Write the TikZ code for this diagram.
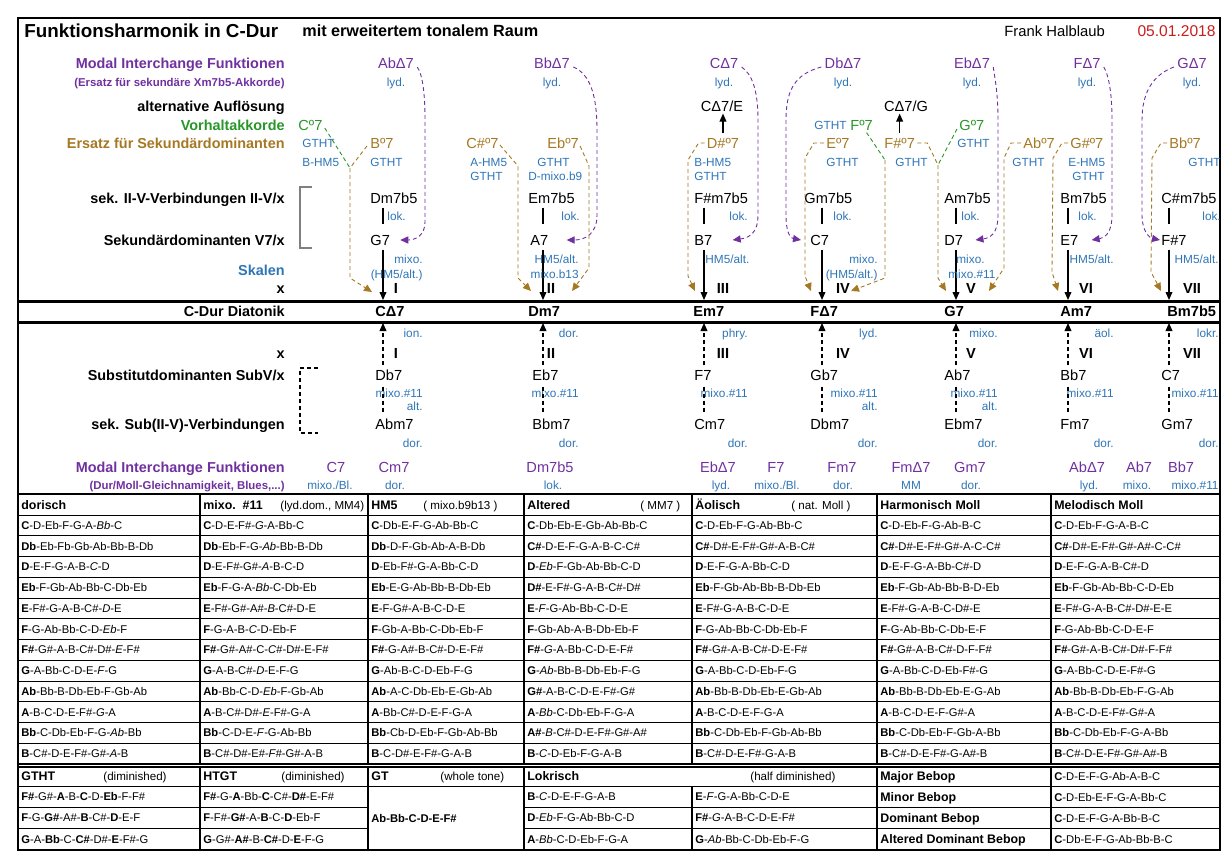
\documentclass[tikz,border=0pt]{standalone}
\usepackage{fontspec}
\setmainfont{Liberation Sans}
\usepackage{tikz}
\usetikzlibrary{arrows.meta,calc}
\definecolor{mipurple}{RGB}{112,48,160}
\definecolor{scblue}{RGB}{46,117,182}
\definecolor{vhgreen}{RGB}{40,150,40}
\definecolor{ersbrown}{RGB}{165,120,35}
\definecolor{datered}{RGB}{200,30,30}
\newcommand{\kt}[1]{\textbf{#1}}
\newcommand{\vm}[1]{\textit{#1}}
\tikzset{
  every node/.style={inner sep=0pt},
  chd/.style={font=\fontsize{7.3}{8}\selectfont,text height=5.2pt,text depth=0pt},
  bchd/.style={chd,font=\bfseries\fontsize{7.3}{8}\selectfont},
  scl/.style={font=\fontsize{5.9}{7}\selectfont,text height=4.2pt,text depth=0pt,text=scblue},
  lab/.style={font=\bfseries\fontsize{7.2}{8}\selectfont,text height=5.2pt,text depth=0pt,anchor=east},
  sublab/.style={font=\bfseries\fontsize{5.7}{7}\selectfont,text height=4.1pt,text depth=0pt,anchor=east,text=mipurple},
  tcell/.style={font=\fontsize{5.6}{6}\selectfont,text height=4pt,text depth=0pt,anchor=west},
  thead/.style={font=\bfseries\fontsize{6.2}{7}\selectfont,text height=4.5pt,text depth=0pt,anchor=west},
  tnote/.style={font=\fontsize{5.8}{6}\selectfont,text height=4.1pt,text depth=0pt,anchor=west},
  dsh/.style={dash pattern=on 2pt off 1.5pt,line width=.45pt},
  pconn/.style={dsh,draw=mipurple,-{Triangle[length=4pt,width=3.6pt]}},
  bconn/.style={dsh,draw=ersbrown,-{Triangle[length=4pt,width=3.6pt]}},
  gconn/.style={dsh,draw=vhgreen},
  darr/.style={line width=.6pt,-{Triangle[length=4pt,width=3.4pt]}},
  outerline/.style={line width=1.3pt},
  rowline/.style={line width=.5pt},
  colline/.style={line width=1.1pt},
}

\begin{document}
\begin{tikzpicture}[x=0.5pt,y=-0.5pt]
  \useasboundingbox (0,0) rectangle (1227,867);
  \path[draw,outerline] (18,18) rectangle (1220,850);
  \node[font=\bfseries\fontsize{9.4}{11}\selectfont,text height=6.8pt,anchor=west] (title) at (24,31) {Funktionsharmonik in C-Dur};
  \node[font=\bfseries\fontsize{8.1}{10}\selectfont,text height=5.8pt,anchor=west] (subtitle) at (302,31) {mit erweitertem tonalem Raum};
  \node[font=\fontsize{7.4}{9}\selectfont,text height=5.3pt,anchor=west] (author) at (1004,31) {Frank Halblaub};
  \node[font=\fontsize{7.8}{9}\selectfont,text height=5.6pt,anchor=east,text=datered] (date) at (1216,31) {05.01.2018};

  \node[lab,text=mipurple] (lmi) at (285,63) {Modal Interchange Funktionen};
  \node[sublab] (lmis) at (285,82) {(Ersatz für sekundäre Xm7b5-Akkorde)};
  \node[lab] (lalt) at (285,106) {alternative Auflösung};
  \node[lab,text=vhgreen] (lvh) at (285,125) {Vorhaltakkorde};
  \node[lab,text=ersbrown] (lers) at (285,143) {Ersatz für Sekundärdominanten};
  \node[lab] (liiv) at (285,198) {sek. II-V-Verbindungen II-V/x};
  \node[lab] (lsd) at (285,240) {Sekundärdominanten V7/x};
  \node[lab,text=scblue] (lskal) at (285,270) {Skalen};
  \node[lab] (lx) at (285,288) {x};
  \node[lab] (ldia) at (285,311) {C-Dur Diatonik};
  \node[lab] (lxb) at (285,353) {x};
  \node[lab] (lsub) at (285,375) {Substitutdominanten SubV/x};
  \node[lab] (lsubii) at (285,424) {sek. Sub(II-V)-Verbindungen};
  \node[lab,text=mipurple] (lmib) at (285,467) {Modal Interchange Funktionen};
  \node[sublab] (lmibs) at (285,485) {(Dur/Moll-Gleichnamigkeit, Blues,...)};

  \path[draw,gray,line width=.6pt] (312,187) -- (300,187) -- (300,248) -- (312,248);
  \path[draw,dsh,line width=.6pt] (318,368) -- (300,368) -- (300,433) -- (318,433);
  \path[draw,line width=1.5pt] (18,301) -- (1220,301);
  \path[draw,line width=1.5pt] (18,322) -- (1220,322);

  \foreach \n/\xa/\iic/\iix/\vc/\vx/\lokx/\dg/\dgx/\dc/\dx/\mc/\mx in {
    1/383/Dm7b5/370/G7/370/387/I/396/CΔ7/375/AbΔ7/396,
    2/543/Em7b5/528/A7/530/561/II/551/Dm7/528/BbΔ7/552,
    3/704/F\#m7b5/694/B7/694/729/III/723/Em7/693/CΔ7/724,
    4/822/Gm7b5/804/C7/810/833/IV/843/FΔ7/810/DbΔ7/843,
    5/956/Am7b5/944/D7/944/961/V/971/G7/944/EbΔ7/972,
    6/1068/Bm7b5/1060/E7/1060/1078/VI/1086/Am7/1060/FΔ7/1087,
    7/1169/C\#m7b5/1161/F\#7/1161/1202/VII/1192/Bm7b5/1167/GΔ7/1192}{
    \coordinate (ax\n) at (\xa,300);
    \coordinate (bx\n) at (\xa,323);
    \node[chd,text=mipurple] (mi\n) at (\mx,63) {\mc};
    \node[scl] (lyd\n) at (\mx,82) {lyd.};
    \node[chd,anchor=west] (ii\n) at (\iix,198) {\iic};
    \node[scl,anchor=west] (lok\n) at (\lokx,216) {lok.};
    \node[chd,anchor=west] (sd\n) at (\vx,240) {\vc};
    \node[bchd] (dg\n) at (\dgx,288) {\dg};
    \node[bchd,anchor=west] (dia\n) at (\dx,311) {\dc};
    \node[bchd] (dgb\n) at (\dgx,353) {\dg};
    \path[draw,line width=.6pt,shorten <=2pt,shorten >=5pt] (ii\n.south -| ax\n) -- (sd\n.north -| ax\n);
    \path[draw,darr,shorten <=2pt] (sd\n.south -| ax\n) -- (ax\n);
  }

  \node[scl,anchor=east] (vs1a) at (423,259) {mixo.};
  \node[scl,anchor=east] (vs1b) at (423,274) {(HM5/alt.)};
  \node[scl,anchor=east] (vs2a) at (579,259) {HM5/alt.};
  \node[scl,anchor=east] (vs2b) at (579,274) {mixo.b13};
  \node[scl,anchor=west] (vs3a) at (705,259) {HM5/alt.};
  \node[scl,anchor=east] (vs4a) at (878,259) {mixo.};
  \node[scl,anchor=east] (vs4b) at (878,274) {(HM5/alt.)};
  \node[scl,anchor=west] (vs5a) at (956,259) {mixo.};
  \node[scl,anchor=west] (vs5b) at (948,274) {mixo.\#11};
  \node[scl,anchor=east] (vs6a) at (1114,259) {HM5/alt.};
  \node[scl,anchor=east] (vs7a) at (1219,259) {HM5/alt.};

  \node[chd,text=vhgreen,anchor=west] (vh1) at (298,125) {Cº7};
  \node[scl,anchor=west] (gt1) at (302,143) {GTHT};
  \node[chd,text=ersbrown,anchor=west] (ers1) at (370,143) {Bº7};
  \node[scl,anchor=west] (hm1) at (302,162) {B-HM5};
  \node[scl,anchor=west] (gt1b) at (370,162) {GTHT};
  \node[chd,text=ersbrown,anchor=west] (ers2a) at (466,143) {C\#º7};
  \node[chd,text=ersbrown,anchor=west] (ers2b) at (547,143) {Ebº7};
  \node[scl,anchor=west] (hm2) at (470,162) {A-HM5};
  \node[scl,anchor=west] (gt2) at (470,176) {GTHT};
  \node[scl,anchor=west] (gt2b) at (537,162) {GTHT};
  \node[scl,anchor=west] (dm2) at (528,176) {D-mixo.b9};
  \node[chd] (al3) at (722,106) {CΔ7/E};
  \node[chd,text=ersbrown] (ers3) at (723,143) {D\#º7};
  \node[scl,anchor=west] (hm3) at (694,162) {B-HM5};
  \node[scl,anchor=west] (gt3) at (694,176) {GTHT};
  \node[chd] (al4) at (906,106) {CΔ7/G};
  \node[scl,anchor=west] (gt4a) at (814,125) {GTHT};
  \node[chd,text=vhgreen,anchor=west] (vh4) at (850,125) {Fº7};
  \node[chd,text=ersbrown,anchor=west] (ers4a) at (826,143) {Eº7};
  \node[scl,anchor=west] (gt4b) at (826,162) {GTHT};
  \node[chd,text=ersbrown,anchor=west] (ers4b) at (884,143) {F\#º7};
  \node[scl,anchor=west] (gt4c) at (895,162) {GTHT};
  \node[chd,text=vhgreen,anchor=west] (vh5) at (959,125) {Gº7};
  \node[scl,anchor=west] (gt5a) at (957,143) {GTHT};
  \node[chd,text=ersbrown,anchor=west] (ers5) at (1023,143) {Abº7};
  \node[scl,anchor=west] (gt5b) at (1012,162) {GTHT};
  \node[chd,text=ersbrown,anchor=west] (ers6) at (1070,143) {G\#º7};
  \node[scl,anchor=west] (hm6) at (1068,162) {E-HM5};
  \node[scl,anchor=west] (gt6) at (1072,176) {GTHT};
  \node[chd,text=ersbrown,anchor=west] (ers7) at (1169,143) {Bbº7};
  \node[scl,anchor=west] (gt7) at (1188,162) {GTHT};

  \path[draw,darr,shorten <=2pt,shorten >=1pt] (ers3.north) -- (ers3.north |- al3.south);
  \path[draw,darr,shorten <=2pt,shorten >=1pt] (ers4b.north) -- (ers4b.north |- al4.south);

  \path[draw,pconn] ($(mi1.east)+(3,4)$) .. controls (422,74) and (425,90) .. (425,120) -- (425,222) .. controls (425,236) and (415,240) .. ($(sd1.east)+(10,0)$);
  \path[draw,pconn] ($(mi2.east)+(3,4)$) .. controls (590,74) and (597,95) .. (597,130) -- (597,215) .. controls (597,234) and (585,240) .. ($(sd2.east)+(18,0)$);
  \path[draw,pconn] ($(mi3.east)+(3,4)$) .. controls (752,74) and (758,90) .. (758,120) -- (758,215) .. controls (758,234) and (748,238) .. ($(sd3.east)+(20,0)$);
  \path[draw,pconn] ($(mi4.west)+(-3,4)$) .. controls (795,74) and (786,90) .. (786,120) -- (786,215) .. controls (786,232) and (790,238) .. ($(sd4.west)+(-9,0)$);
  \path[draw,pconn] ($(mi5.east)+(3,4)$) .. controls (994,74) and (998,90) .. (998,120) -- (998,215) .. controls (998,234) and (990,238) .. ($(sd5.east)+(12,0)$);
  \path[draw,pconn] ($(mi6.east)+(3,4)$) .. controls (1108,74) and (1112,90) .. (1112,120) -- (1112,215) .. controls (1112,234) and (1104,238) .. ($(sd6.east)+(13,0)$);
  \path[draw,pconn] ($(mi7.west)+(-3,4)$) .. controls (1155,74) and (1142,90) .. (1142,120) -- (1142,215) .. controls (1142,232) and (1150,238) .. ($(sd7.west)+(-1,0)$);

  \coordinate (j1) at (350,168);
  \coordinate (j4) at (885,160);
  \coordinate (j5) at (938,165);
  \path[draw,gconn] ($(vh1.east)+(2,3)$) -- (j1);
  \path[draw,dsh,draw=ersbrown] ($(ers1.west)+(-3,3)$) -- (j1);
  \path[draw,bconn] (j1) -- ++(0,110) -- ($(ax1)+(-11,-8)$);
  \path[draw,bconn] ($(ers2a.east)+(1,2)$) -- (518,166) -- (518,278) -- ($(ax2)+(-12,-9)$);
  \path[draw,bconn] ($(ers2b.east)+(1,3)$) -- (589,166) -- (589,268) -- ($(ax2)+(29,-9)$);
  \path[draw,bconn] ($(ers3.west)+(-2,0)$) -- ++(-6,0) -- (688,160) -- (688,276) -- ($(ax3)+(-9,-9)$);
  \path[draw,bconn] ($(ers4a.west)+(-2,0)$) -- ++(-10,0) -- (805,158) -- (805,276) -- ($(ax4)+(-11,-9)$);
  \path[draw,gconn] ($(vh4.south)+(5,2)$) -- (j4);
  \path[draw,bconn] (j4) -- (885,278) -- ($(ax4)+(29,-9)$);
  \path[draw,dsh,draw=ersbrown] ($(ers4b.east)+(2,0)$) -- ++(10,0) -- (j5);
  \path[draw,gconn] ($(vh5.west)+(-2,4)$) -- (j5);
  \path[draw,bconn] (j5) -- (938,278) -- ($(ax5)+(-10,-9)$);
  \path[draw,bconn] ($(ers5.west)+(-2,0)$) -- ++(-10,0) -- (1004,158) -- (1004,268) -- ($(ax5)+(33,-9)$);
  \path[draw,bconn] ($(ers6.west)+(-2,0)$) -- ++(-6,0) -- (1053,158) -- (1052,272) -- ($(ax6)+(-10,-9)$);
  \path[draw,bconn] ($(ers7.west)+(-2,0)$) -- ++(-6,0) -- (1152,158) -- (1151,272) -- ($(ax7)+(-8,-9)$);

  \foreach \n/\sc/\sx/\tc/\mo/\rx in {
    1/Db7/375/Abm7/ion./423,
    2/Eb7/532/Bbm7/dor./579,
    3/F7/694/Cm7/phry./748,
    4/Gb7/810/Dbm7/lyd./878,
    5/Ab7/944/Ebm7/mixo./998,
    6/Bb7/1060/Fm7/äol./1114,
    7/C7/1161/Gm7/lokr./1219}{
    \node[scl,anchor=east] (mo\n) at (\rx,333) {\mo};
    \node[chd,anchor=west] (sub\n) at (\sx,375) {\sc};
    \node[scl,anchor=east] (sm\n) at (\rx,393) {mixo.\#11};
    \node[chd,anchor=west] (sii\n) at (\sx,424) {\tc};
    \node[scl,anchor=east] (sdo\n) at (\rx,443) {dor.};
    \path[draw,dsh,line width=.6pt,-{Triangle[length=4pt,width=3.4pt]},shorten <=2pt] (sub\n.north -| bx\n) -- (bx\n);
    \path[draw,dsh,line width=.6pt,shorten <=3pt,shorten >=3pt] (sub\n.south -| bx\n) -- (sii\n.north -| bx\n);
  }
  \node[scl,anchor=east] (alt1) at (423,406) {alt.};
  \node[scl,anchor=east] (alt4) at (878,406) {alt.};
  \node[scl,anchor=east] (alt5) at (998,406) {alt.};

  \foreach \c/\s/\cx/\sxx [count=\k] in {C7/{mixo./Bl.}/336/330, Cm7/dor./394/395, Dm7b5/lok./550/553,
    EbΔ7/lyd./718/721, F7/{mixo./Bl.}/776/777, Fm7/dor./842/843, FmΔ7/MM/911/911, Gm7/dor./970/971,
    AbΔ7/lyd./1087/1089, Ab7/mixo./1139/1137, Bb7/{mixo.\#11}/1181/1195}{
    \node[chd,text=mipurple] (mib\k) at (\cx,467) {\c};
    \node[scl] (mis\k) at (\sxx,485) {\s};
  }

  \foreach \r in {0,...,11}
    \path[draw,rowline] (18,{515+20.75*\r}) -- (1220,{515+20.75*\r});
  \path[draw,outerline] (18,494) -- (1220,494);
  \path[draw,colline] (18,764) -- (1220,764);
  \path[draw,colline] (18,767) -- (1220,767);
  \foreach \x in {200,368,524,692,877,1051}
    \path[draw,colline] (\x,494) -- (\x,764);

  \node[thead] (hdor) at (21,505) {dorisch};
  \node[thead] (hmix) at (203,505) {mixo.\ \ \#11};
  \node[tnote] (nmix) at (280,505) {(lyd.dom., MM4)};
  \node[thead] (hhm) at (371,505) {HM5};
  \node[tnote] (nhm) at (423,505) {( mixo.b9b13 )};
  \node[thead] (halt) at (527,505) {Altered};
  \node[tnote] (nalt) at (640,505) {( MM7 )};
  \node[thead] (haeo) at (695,505) {Äolisch};
  \node[tnote] (naeo) at (791,505) {( nat. Moll )};
  \node[thead] (hhmo) at (880,505) {Harmonisch Moll};
  \node[thead] (hmmo) at (1054,505) {Melodisch Moll};

  \foreach \s [count=\r from 0] in {{\kt{C}-D-Eb-F-G-A-\vm{Bb}-C},{\kt{Db}-Eb-Fb-Gb-Ab-Bb-B-Db},{\kt{D}-E-F-G-A-B-\vm{C}-D},
    {\kt{Eb}-F-Gb-Ab-Bb-C-Db-Eb},{\kt{E}-F\#-G-A-B-C\#-\vm{D}-E},{\kt{F}-G-Ab-Bb-C-D-\vm{Eb}-F},
    {\kt{F\#}-G\#-A-B-C\#-D\#-\vm{E}-F\#},{\kt{G}-A-Bb-C-D-E-\vm{F}-G},{\kt{Ab}-Bb-B-Db-Eb-F-Gb-Ab},
    {\kt{A}-B-C-D-E-F\#-\vm{G}-A},{\kt{Bb}-C-Db-Eb-F-G-\vm{Ab}-Bb},{\kt{B}-C\#-D-E-F\#-G\#-\vm{A}-B}}
    \node[tcell] (dor\r) at (21,{525.4+20.75*\r}) {\s};
  \foreach \s [count=\r from 0] in {{\kt{C}-D-E-F\#-\vm{G}-A-Bb-C},{\kt{Db}-Eb-F-G-\vm{Ab}-Bb-B-Db},{\kt{D}-E-F\#-G\#-\vm{A}-B-C-D},
    {\kt{Eb}-F-G-A-\vm{Bb}-C-Db-Eb},{\kt{E}-F\#-G\#-A\#-\vm{B}-C\#-D-E},{\kt{F}-G-A-B-\vm{C}-D-Eb-F},
    {\kt{F\#}-G\#-A\#-C-\vm{C\#}-D\#-E-F\#},{\kt{G}-A-B-C\#-\vm{D}-E-F-G},{\kt{Ab}-Bb-C-D-\vm{Eb}-F-Gb-Ab},
    {\kt{A}-B-C\#-D\#-\vm{E}-F\#-G-A},{\kt{Bb}-C-D-E-\vm{F}-G-Ab-Bb},{\kt{B}-C\#-D\#-E\#-\vm{F\#}-G\#-A-B}}
    \node[tcell] (mix\r) at (203,{525.4+20.75*\r}) {\s};
  \foreach \s [count=\r from 0] in {{\kt{C}-Db-E-F-G-Ab-Bb-C},{\kt{Db}-D-F-Gb-Ab-A-B-Db},{\kt{D}-Eb-F\#-G-A-Bb-C-D},
    {\kt{Eb}-E-G-Ab-Bb-B-Db-Eb},{\kt{E}-F-G\#-A-B-C-D-E},{\kt{F}-Gb-A-Bb-C-Db-Eb-F},
    {\kt{F\#}-G-A\#-B-C\#-D-E-F\#},{\kt{G}-Ab-B-C-D-Eb-F-G},{\kt{Ab}-A-C-Db-Eb-E-Gb-Ab},
    {\kt{A}-Bb-C\#-D-E-F-G-A},{\kt{Bb}-Cb-D-Eb-F-Gb-Ab-Bb},{\kt{B}-C-D\#-E-F\#-G-A-B}}
    \node[tcell] (hm\r) at (371,{525.4+20.75*\r}) {\s};
  \foreach \s [count=\r from 0] in {{\kt{C}-Db-Eb-E-Gb-Ab-Bb-C},{\kt{C\#}-D-E-F-G-A-B-C-C\#},{\kt{D}-\vm{Eb}-F-Gb-Ab-Bb-C-D},
    {\kt{D\#}-E-F\#-G-A-B-C\#-D\#},{\kt{E}-\vm{F}-G-Ab-Bb-C-D-E},{\kt{F}-Gb-Ab-A-B-Db-Eb-F},
    {\kt{F\#}-\vm{G}-A-Bb-C-D-E-F\#},{\kt{G}-\vm{Ab}-Bb-B-Db-Eb-F-G},{\kt{G\#}-A-B-C-D-E-F\#-G\#},
    {\kt{A}-\vm{Bb}-C-Db-Eb-F-G-A},{\kt{A\#}-\vm{B}-C\#-D-E-F\#-G\#-A\#},{\kt{B}-\vm{C}-D-Eb-F-G-A-B}}
    \node[tcell] (alt\r) at (527,{525.4+20.75*\r}) {\s};
  \foreach \s [count=\r from 0] in {{\kt{C}-D-Eb-F-G-Ab-Bb-C},{\kt{C\#}-D\#-E-F\#-G\#-A-B-C\#},{\kt{D}-E-F-G-A-Bb-C-D},
    {\kt{Eb}-F-Gb-Ab-Bb-B-Db-Eb},{\kt{E}-F\#-G-A-B-C-D-E},{\kt{F}-G-Ab-Bb-C-Db-Eb-F},
    {\kt{F\#}-G\#-A-B-C\#-D-E-F\#},{\kt{G}-A-Bb-C-D-Eb-F-G},{\kt{Ab}-Bb-B-Db-Eb-E-Gb-Ab},
    {\kt{A}-B-C-D-E-F-G-A},{\kt{Bb}-C-Db-Eb-F-Gb-Ab-Bb},{\kt{B}-C\#-D-E-F\#-G-A-B}}
    \node[tcell] (aeo\r) at (695,{525.4+20.75*\r}) {\s};
  \foreach \s [count=\r from 0] in {{\kt{C}-D-Eb-F-G-Ab-B-C},{\kt{C\#}-D\#-E-F\#-G\#-A-C-C\#},{\kt{D}-E-F-G-A-Bb-C\#-D},
    {\kt{Eb}-F-Gb-Ab-Bb-B-D-Eb},{\kt{E}-F\#-G-A-B-C-D\#-E},{\kt{F}-G-Ab-Bb-C-Db-E-F},
    {\kt{F\#}-G\#-A-B-C\#-D-F-F\#},{\kt{G}-A-Bb-C-D-Eb-F\#-G},{\kt{Ab}-Bb-B-Db-Eb-E-G-Ab},
    {\kt{A}-B-C-D-E-F-G\#-A},{\kt{Bb}-C-Db-Eb-F-Gb-A-Bb},{\kt{B}-C\#-D-E-F\#-G-A\#-B}}
    \node[tcell] (hmo\r) at (880,{525.4+20.75*\r}) {\s};
  \foreach \s [count=\r from 0] in {{\kt{C}-D-Eb-F-G-A-B-C},{\kt{C\#}-D\#-E-F\#-G\#-A\#-C-C\#},{\kt{D}-E-F-G-A-B-C\#-D},
    {\kt{Eb}-F-Gb-Ab-Bb-C-D-Eb},{\kt{E}-F\#-G-A-B-C\#-D\#-E-E},{\kt{F}-G-Ab-Bb-C-D-E-F},
    {\kt{F\#}-G\#-A-B-C\#-D\#-F-F\#},{\kt{G}-A-Bb-C-D-E-F\#-G},{\kt{Ab}-Bb-B-Db-Eb-F-G-Ab},
    {\kt{A}-B-C-D-E-F\#-G\#-A},{\kt{Bb}-C-Db-Eb-F-G-A-Bb},{\kt{B}-C\#-D-E-F\#-G\#-A\#-B}}
    \node[tcell] (mmo\r) at (1054,{525.4+20.75*\r}) {\s};

  \path[draw,rowline] (18,786) -- (1220,786);
  \foreach \y in {807,828.5}{
    \path[draw,rowline] (18,\y) -- (368,\y);
    \path[draw,rowline] (524,\y) -- (1220,\y);
  }
  \foreach \x in {200,368,524,877,1051}
    \path[draw,colline] (\x,767) -- (\x,850);
  \path[draw,colline] (692,786) -- (692,850);

  \node[thead] (hgtht) at (21,776) {GTHT};
  \node[tnote] (ngtht) at (103,776) {(diminished)};
  \node[thead] (hhtgt) at (203,776) {HTGT};
  \node[tnote] (nhtgt) at (281,776) {(diminished)};
  \node[thead] (hgt) at (371,776) {GT};
  \node[tnote] (ngt) at (440,776) {(whole tone)};
  \node[thead] (hlok) at (527,776) {Lokrisch};
  \node[tnote] (nlok) at (750,776) {(half diminished)};
  \foreach \s [count=\r from 0] in {{\kt{F\#}-G\#-\kt{A}-B-\kt{C}-D-\kt{Eb}-F-F\#},{\kt{F}-G-\kt{G\#}-A\#-\kt{B}-C\#-\kt{D}-E-F},{\kt{G}-A-\kt{Bb}-C-\kt{C\#}-D\#-\kt{E}-F\#-G}}
    \node[tcell] (gtht\r) at (21,{796.5+21.25*\r}) {\s};
  \foreach \s [count=\r from 0] in {{\kt{F\#}-G-\kt{A}-Bb-\kt{C}-C\#-\kt{D\#}-E-F\#},{\kt{F}-F\#-\kt{G\#}-A-\kt{B}-C-\kt{D}-Eb-F},{\kt{G}-G\#-\kt{A\#}-B-\kt{C\#}-D-\kt{E}-F-G}}
    \node[tcell] (htgt\r) at (203,{796.5+21.25*\r}) {\s};
  \node[tcell] (gt0) at (371,818) {\kt{Ab-Bb-C-D-E-F\#}};
  \foreach \s [count=\r from 0] in {{\kt{B}-\vm{C}-D-E-F-G-A-B},{\kt{D}-\vm{Eb}-F-G-Ab-Bb-C-D},{\kt{A}-\vm{Bb}-C-D-Eb-F-G-A}}
    \node[tcell] (loka\r) at (527,{796.5+21.25*\r}) {\s};
  \foreach \s [count=\r from 0] in {{\kt{E}-\vm{F}-G-A-Bb-C-D-E},{\kt{F\#}-\vm{G}-A-B-C-D-E-F\#},{\kt{G}-\vm{Ab}-Bb-C-Db-Eb-F-G}}
    \node[tcell] (lokb\r) at (695,{796.5+21.25*\r}) {\s};
  \foreach \b/\s [count=\r from 0] in {Major Bebop/{\kt{C}-D-E-F-G-Ab-A-B-C},Minor Bebop/{\kt{C}-D-Eb-E-F-G-A-Bb-C},
    Dominant Bebop/{\kt{C}-D-E-F-G-A-Bb-B-C},Altered Dominant Bebop/{\kt{C}-Db-E-F-G-Ab-Bb-B-C}}{
    \node[thead] (bbn\r) at (880,{776+21.1*\r}) {\b};
    \node[tcell] (bbs\r) at (1054,{776+21.1*\r}) {\s};
  }
\end{tikzpicture}
\end{document}
